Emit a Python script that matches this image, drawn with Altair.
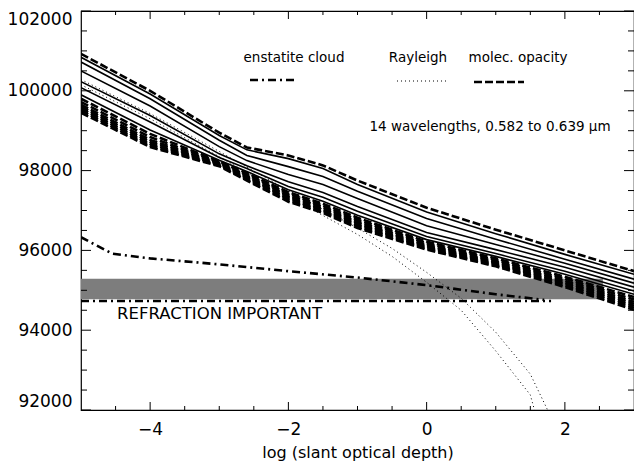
import altair as alt
import pandas as pd

# ---------------- data ----------------
X_GRID = [-5, -4, -3, -2.6, -2, -1.5, -1, 0, 1, 2, 3]

C01 = [100925, 100000, 98950, 98580, 98380, 98130, 97750, 97070, 96520, 96000, 95480]
C02 = [100840, 99920, 98880, 98520, 98300, 98050, 97650, 96960, 96420, 95900, 95400]
C03 = [100720, 99800, 98760, 98380, 98100, 97850, 97480, 96800, 96280, 95780, 95280]
C04 = [100500, 99620, 98600, 98250, 97900, 97650, 97300, 96620, 96150, 95680, 95180]
C05 = [100230, 99380, 98420, 98120, 97720, 97450, 97100, 96450, 96020, 95580, 95080]
C06 = [100080, 99220, 98330, 98050, 97600, 97330, 96980, 96350, 95920, 95480, 94980]
C07 = [99900, 99020, 98260, 97980, 97520, 97230, 96880, 96270, 95850, 95400, 94900]
C08 = [99800, 98920, 98230, 97940, 97460, 97170, 96820, 96220, 95800, 95340, 94830]
C09 = [99720, 98840, 98210, 97900, 97420, 97120, 96770, 96180, 95760, 95290, 94770]
C10 = [99650, 98770, 98190, 97870, 97380, 97080, 96720, 96140, 95720, 95240, 94710]
C11 = [99600, 98720, 98170, 97840, 97340, 97040, 96680, 96110, 95690, 95200, 94660]
C12 = [99550, 98670, 98150, 97810, 97300, 97000, 96640, 96080, 95660, 95160, 94610]
C13 = [99500, 98630, 98130, 97780, 97260, 96970, 96600, 96050, 95630, 95120, 94560]
C14 = [99450, 98590, 98110, 97750, 97220, 96940, 96560, 96020, 95600, 95080, 94510]

CURVES = {"c01": C01, "c02": C02, "c03": C03, "c04": C04, "c05": C05,
          "c06": C06, "c07": C07, "c08": C08, "c09": C09, "c10": C10,
          "c11": C11, "c12": C12, "c13": C13, "c14": C14}
DASHED = ["c01", "c08", "c09", "c10", "c11", "c12", "c13", "c14"]

RAY_A_X = [-5, -4, -3, -2, -1, -0.5, 0, 0.5, 1, 1.5, 1.56]
RAY_A_Y = [100150, 99300, 98350, 97350, 96400, 95850, 95200, 94500, 93480, 92380, 92000]
RAY_B_X = [-5, -4, -3, -2, -1, -0.5, 0, 0.5, 1, 1.5, 1.75]
RAY_B_Y = [100280, 99430, 98480, 97500, 96560, 96050, 95450, 94800, 93950, 92900, 92000]

CLOUD_X = [-5, -4.55, -4, -3, -2, -1, 0, 1, 1.7]
CLOUD_Y = [96330, 95920, 95800, 95650, 95480, 95320, 95130, 94900, 94760]

REFR_X = [-5, 1.8]
REFR_Y = [94730, 94730]

BAND_X = [-5, 2.55]
BAND_Y = [94775, 95290]

X_MAJOR = [-4, -2, 0, 2]
X_MINOR = [-4.5, -3.5, -3, -2.5, -1.5, -1, -0.5, 0.5, 1, 1.5, 2.5]
Y_MAJOR = [92000, 94000, 96000, 98000, 100000, 102000]
Y_MINOR = [92500, 93000, 93500, 94500, 95000, 95500, 96500, 97000, 97500,
           98500, 99000, 99500, 100500, 101000, 101500]

# ---------------- tables ----------------
rows = []
for name, yv_list in CURVES.items():
    for xv, yv in zip(X_GRID, yv_list):
        rows.append({"x": xv, "y": yv, "curve": name,
                     "style": "dashed" if name in DASHED else "solid"})
curves_df = pd.DataFrame(rows)

ray_rows = [{"x": a, "y": b, "curve": "A"} for a, b in zip(RAY_A_X, RAY_A_Y)] + \
           [{"x": a, "y": b, "curve": "B"} for a, b in zip(RAY_B_X, RAY_B_Y)]
ray_df = pd.DataFrame(ray_rows)
cloud_df = pd.DataFrame({"x": CLOUD_X, "y": CLOUD_Y})
refr_df = pd.DataFrame({"x": REFR_X, "y": REFR_Y})
band_df = pd.DataFrame({"x0": [BAND_X[0]], "x1": [BAND_X[1]],
                        "y0": [BAND_Y[0]], "y1": [BAND_Y[1]]})
dummy = pd.DataFrame({"a": [1]})

W, H = 553, 399
FONT = "DejaVu Sans"

xs = alt.Scale(domain=[-5, 3], nice=False, zero=False)
ys = alt.Scale(domain=[92000, 102000], nice=False, zero=False)

AX = alt.Axis(orient="bottom", values=X_MAJOR, format="d", ticks=False,
              tickSize=0, domain=False, grid=False, labelFont=FONT,
              labelFontSize=17, labelColor="black", labelPadding=11,
              title="log (slant optical depth)", titleFont=FONT,
              titleFontSize=16, titleFontWeight="normal",
              titleColor="black", titlePadding=7)
AY = alt.Axis(orient="left", values=Y_MAJOR, format="d", ticks=False,
              tickSize=0, domain=False, grid=False, labelFont=FONT,
              labelFontSize=17, labelColor="black", labelPadding=9,
              labelFlush=True, title="")


def X(field):
    return alt.X(field, scale=xs, axis=AX, title="log (slant optical depth)")


def Y(field):
    return alt.Y(field, scale=ys, axis=AY, title="")


band = alt.Chart(band_df).mark_rect(fill="#7d7d7d").encode(
    x=X("x0:Q"), x2="x1:Q", y=Y("y0:Q"), y2="y1:Q")

dashed = alt.Chart(curves_df[curves_df["style"] == "dashed"]).mark_line(
    color="black", strokeWidth=2.6, strokeDash=[8, 3], clip=True).encode(
    x=X("x:Q"), y=Y("y:Q"), detail="curve:N", order="x:Q")

solid = alt.Chart(curves_df[curves_df["style"] == "solid"]).mark_line(
    color="black", strokeWidth=1.6, clip=True).encode(
    x=X("x:Q"), y=Y("y:Q"), detail="curve:N", order="x:Q")

ray = alt.Chart(ray_df).mark_line(
    color="black", strokeWidth=1, strokeDash=[1, 3], clip=True).encode(
    x=X("x:Q"), y=Y("y:Q"), detail="curve:N", order="x:Q")

cloud = alt.Chart(cloud_df).mark_line(
    color="black", strokeWidth=2.6, strokeDash=[8, 4, 2, 4], clip=True).encode(
    x=X("x:Q"), y=Y("y:Q"), order="x:Q")

refr = alt.Chart(refr_df).mark_line(
    color="black", strokeWidth=2.6, strokeDash=[8, 4, 2, 4], clip=True).encode(
    x=X("x:Q"), y=Y("y:Q"))


# inward tick marks drawn through the shared scales
def xticks(values, length):
    d = pd.DataFrame({"v": values})
    bottom = alt.Chart(d).mark_rule(color="black", strokeWidth=1).encode(
        x=X("v:Q"), y=alt.value(H), y2=alt.value(H - length))
    top = alt.Chart(d).mark_rule(color="black", strokeWidth=1).encode(
        x=X("v:Q"), y=alt.value(0), y2=alt.value(length))
    return [bottom, top]


def yticks(values, length):
    d = pd.DataFrame({"v": values})
    left = alt.Chart(d).mark_rule(color="black", strokeWidth=1).encode(
        y=Y("v:Q"), x=alt.value(0), x2=alt.value(length))
    right = alt.Chart(d).mark_rule(color="black", strokeWidth=1).encode(
        y=Y("v:Q"), x=alt.value(W), x2=alt.value(W - length))
    return [left, right]


def label(txt, px, py, align="center", size=13.5):
    return alt.Chart(dummy).mark_text(
        text=txt, align=align, baseline="middle", font=FONT, fontSize=size,
        color="black").encode(x=alt.value(px), y=alt.value(py))


def sample(px0, px1, py, dash, width):
    return alt.Chart(dummy).mark_rule(
        color="black", strokeDash=dash, strokeWidth=width).encode(
        x=alt.value(px0), x2=alt.value(px1), y=alt.value(py))


layers = [band, dashed, solid, ray, cloud, refr]
layers += xticks(X_MAJOR, 8) + xticks(X_MINOR, 4)
layers += yticks(Y_MAJOR, 10) + yticks(Y_MINOR, 6)
layers += [
    label("enstatite cloud", 213, 47),
    label("Rayleigh", 337, 47),
    label("molec. opacity", 437, 47),
    label("14 wavelengths, 0.582 to 0.639 μm", 409, 116),
    label("REFRACTION IMPORTANT", 36, 303, align="left", size=16.5),
    sample(169, 215, 69, [8, 4, 2, 4], 2.6),
    sample(316, 366, 70, [1, 3], 1),
    sample(393, 443, 71, [8, 3], 2.6),
]

chart = alt.layer(*layers).properties(
    width=W, height=H,
    autosize=alt.AutoSizeParams(type="none"),
    padding={"left": 73, "top": 3, "right": 0, "bottom": 52},
).configure_view(stroke="black", strokeWidth=1.2)

chart.save("out.html", embed_options={"renderer": "svg", "actions": False})
